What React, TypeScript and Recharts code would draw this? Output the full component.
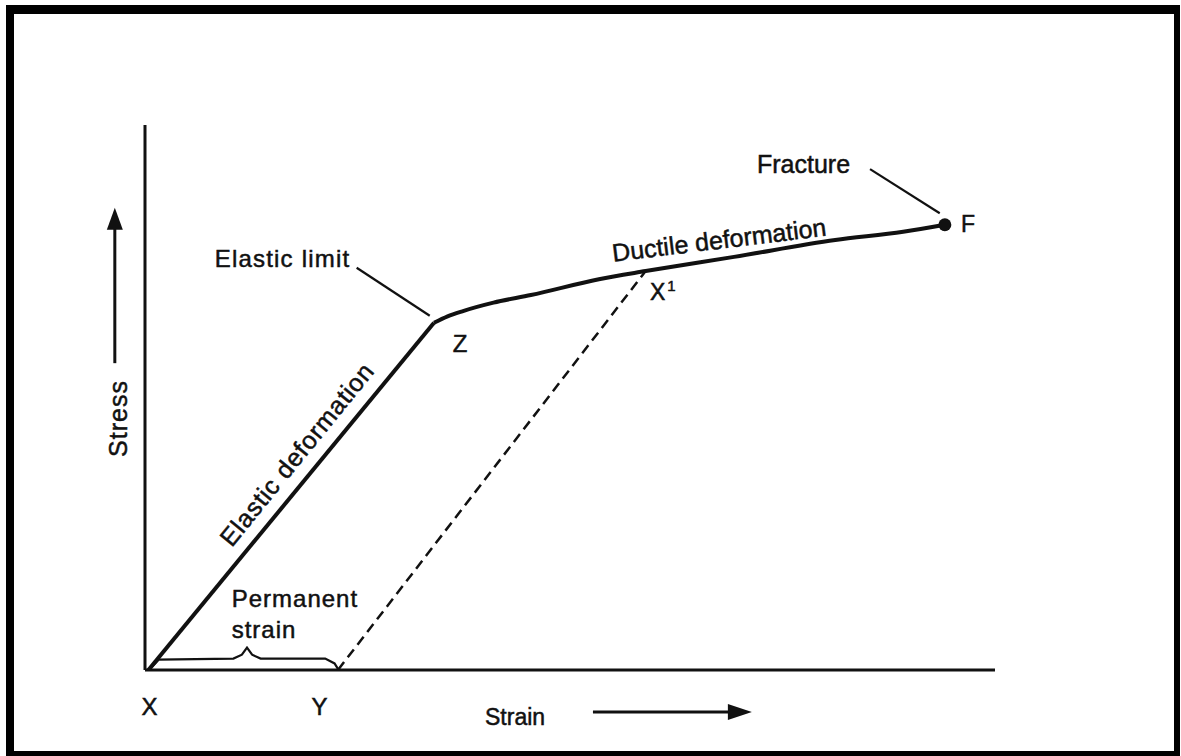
import React from 'react';
import { ComposedChart, Line, XAxis, YAxis, ReferenceDot, ReferenceLine } from 'recharts';

// Stress–strain curve (strain on x, stress on y, arbitrary units 0–100)
const elasticStrain = [0.4, 34.0];
const elasticStress = [0, 63.7];
const ductileStrain = [34.0, 35.6, 37.5, 41.0, 45.4, 53.4, 58.9, 69.3, 81.2, 89.2, 94.1];
const ductileStress = [63.7, 64.9, 65.9, 67.4, 68.8, 71.7, 73.2, 75.8, 78.9, 80.4, 81.7];
const unloadStrain = [22.7, 58.9];
const unloadStress = [0, 73.2];
const braceStrain = [0.6, 1.6, 10.4, 11.4, 12.0, 12.6, 13.6, 21.2, 22.3, 22.7];
const braceStress = [0.2, 1.9, 2.1, 2.8, 4.1, 2.8, 2.1, 2.1, 1.2, 0.2];
const elasticLeaderStrain = [24.9, 33.5];
const elasticLeaderStress = [73.8, 65.0];
const fractureLeaderStrain = [85.3, 93.5];
const fractureLeaderStress = [91.9, 83.8];
const fractureStrain = 94.1;
const fractureStress = 81.7;

const zip = (xs: number[], ys: number[]) => xs.map((x, i) => ({ x, y: ys[i] }));

const elasticData = zip(elasticStrain, elasticStress);
const ductileData = zip(ductileStrain, ductileStress);
const unloadData = zip(unloadStrain, unloadStress);
const braceData = zip(braceStrain, braceStress);
const elasticLeader = zip(elasticLeaderStrain, elasticLeaderStress);
const fractureLeader = zip(fractureLeaderStrain, fractureLeaderStress);

const FONT = '"Liberation Sans", Arial, Helvetica, sans-serif';

const label = (txt: string, size: number, angle = 0, spacing = 0) => (p: any) => (
  <text
    x={p.cx}
    y={p.cy}
    fontFamily={FONT}
    fontSize={size}
    letterSpacing={spacing}
    fill="#111"
    stroke="#111"
    strokeWidth={0.5}
    transform={angle ? `rotate(${angle} ${p.cx} ${p.cy})` : undefined}
  >
    {txt}
  </text>
);

const headUp = (p: any) => (
  <polygon points={`${p.cx},${p.cy} ${p.cx - 8},${p.cy + 22} ${p.cx + 8},${p.cy + 22}`} fill="#111" />
);
const headRight = (p: any) => (
  <polygon points={`${p.cx},${p.cy} ${p.cx - 24},${p.cy - 8} ${p.cx - 24},${p.cy + 8}`} fill="#111" />
);
const x1Label = (p: any) => (
  <text x={p.cx} y={p.cy} fontFamily={FONT} fill="#111" stroke="#111" strokeWidth={0.5}>
    <tspan fontSize={23}>X</tspan>
    <tspan fontSize={15} dy={-9} dx={2}>1</tspan>
  </text>
);
const fracDot = (p: any) => <circle cx={p.cx} cy={p.cy} r={6.5} fill="#111" />;

export default function App() {
  return (
    <div style={{ position: 'absolute', left: 0, top: 0, width: 1181, height: 756, background: '#fff' }}>
      <div
        style={{
          position: 'absolute',
          left: 6,
          top: 5,
          width: 1174,
          height: 751,
          boxSizing: 'border-box',
          borderStyle: 'solid',
          borderColor: '#000',
          borderTopWidth: 9,
          borderLeftWidth: 8,
          borderRightWidth: 6,
          borderBottomWidth: 5,
        }}
      />
      <div style={{ position: 'absolute', left: 0, top: 0 }}>
        <ComposedChart width={1181} height={756} margin={{ top: 125, right: 186, bottom: 86, left: 145 }}>
          <XAxis type="number" dataKey="x" domain={[0, 100]} allowDataOverflow hide />
          <YAxis type="number" dataKey="y" domain={[0, 100]} allowDataOverflow hide />

          {/* axes lines */}
          <ReferenceLine y={0} stroke="#111" strokeWidth={3} />
          <ReferenceLine x={0} stroke="#111" strokeWidth={3} />

          <Line data={elasticData} dataKey="y" type="linear" stroke="#111" strokeWidth={4} dot={false} activeDot={false} isAnimationActive={false} />
          <Line data={ductileData} dataKey="y" type="monotone" stroke="#111" strokeWidth={4} dot={false} activeDot={false} isAnimationActive={false} />
          <Line data={unloadData} dataKey="y" type="linear" stroke="#111" strokeWidth={2.5} strokeDasharray="10 6" dot={false} activeDot={false} isAnimationActive={false} />
          <Line data={braceData} dataKey="y" type="linear" stroke="#111" strokeWidth={2.2} dot={false} activeDot={false} isAnimationActive={false} />
          <Line data={elasticLeader} dataKey="y" type="linear" stroke="#111" strokeWidth={2.2} dot={false} activeDot={false} isAnimationActive={false} />
          <Line data={fractureLeader} dataKey="y" type="linear" stroke="#111" strokeWidth={2.2} dot={false} activeDot={false} isAnimationActive={false} />
          <ReferenceDot x={fractureStrain} y={fractureStress} ifOverflow="visible" shape={fracDot} />

          {/* axis arrows */}
          <ReferenceLine segment={[{ x: -3.55, y: 56.3 }, { x: -3.55, y: 82 }]} ifOverflow="visible" stroke="#111" strokeWidth={3} />
          <ReferenceDot x={-3.55} y={84.8} ifOverflow="visible" shape={headUp} />
          <ReferenceLine segment={[{ x: 52.7, y: -7.7 }, { x: 69, y: -7.7 }]} ifOverflow="visible" stroke="#111" strokeWidth={3} />
          <ReferenceDot x={71.4} y={-7.7} ifOverflow="visible" shape={headRight} />

          {/* text */}
          <ReferenceDot x={-2.1} y={39.1} ifOverflow="visible" shape={label('Stress', 25, -90, 1)} />
          <ReferenceDot x={40.0} y={-10.1} ifOverflow="visible" shape={label('Strain', 23)} />
          <ReferenceDot x={-0.4} y={-8.3} ifOverflow="visible" shape={label('X', 24)} />
          <ReferenceDot x={19.6} y={-8.3} ifOverflow="visible" shape={label('Y', 24)} />
          <ReferenceDot x={36.2} y={58.3} ifOverflow="visible" shape={label('Z', 24)} />
          <ReferenceDot x={59.4} y={67.9} ifOverflow="visible" shape={x1Label} />
          <ReferenceDot x={96.0} y={80.4} ifOverflow="visible" shape={label('F', 23)} />
          <ReferenceDot x={72.0} y={91.2} ifOverflow="visible" shape={label('Fracture', 25)} />
          <ReferenceDot x={8.2} y={73.9} ifOverflow="visible" shape={label('Elastic limit', 24, 0, 1.2)} />
          <ReferenceDot x={10.2} y={11.6} ifOverflow="visible" shape={label('Permanent', 24, 0, 1)} />
          <ReferenceDot x={10.2} y={5.9} ifOverflow="visible" shape={label('strain', 24, 0, 1)} />
          <ReferenceDot x={55.1} y={74.9} ifOverflow="visible" shape={label('Ductile deformation', 25, -7)} />
          <ReferenceDot x={10.2} y={22.4} ifOverflow="visible" shape={label('Elastic deformation', 25, -50.8, 0.8)} />
        </ComposedChart>
      </div>
    </div>
  );
}
